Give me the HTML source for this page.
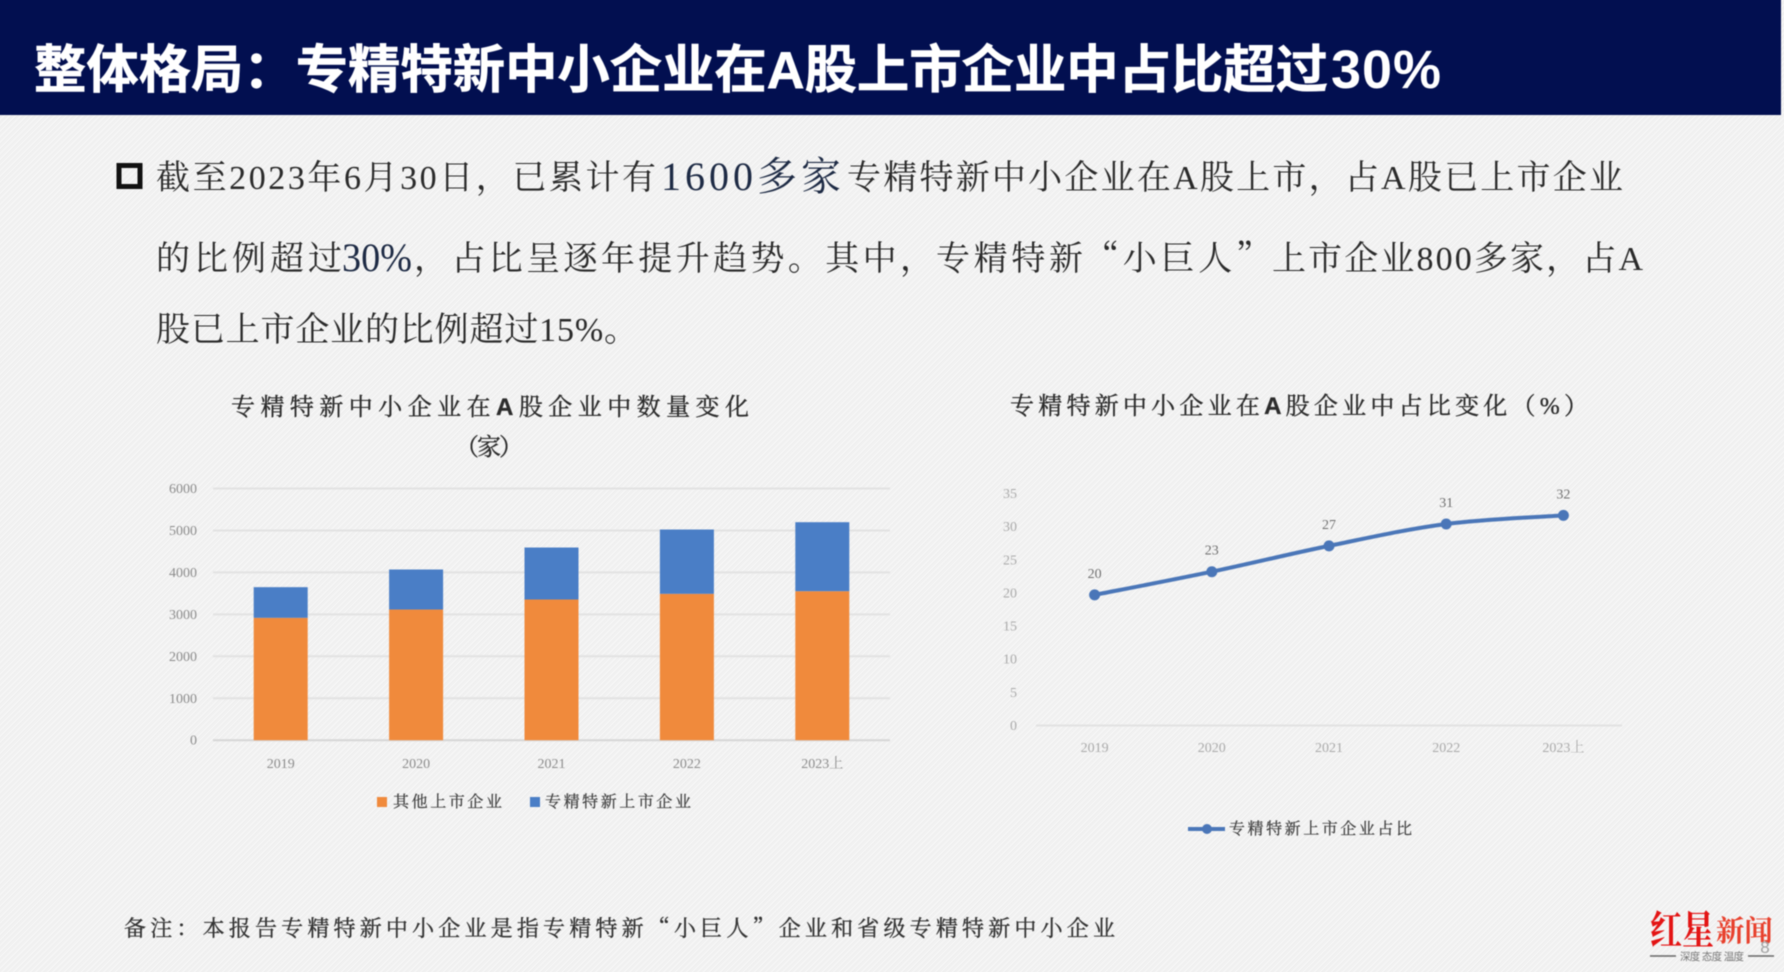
<!DOCTYPE html>
<html lang="zh">
<head>
<meta charset="utf-8">
<title>整体格局</title>
<style>
html,body{margin:0;padding:0;width:1784px;height:972px;overflow:hidden;background:#f2f2f2;}
#stage{position:absolute;left:0;top:0;width:1784px;height:972px;overflow:hidden;background-color:#f1f1f1;background-image:repeating-linear-gradient(135deg,#f5f5f5 0,#f5f5f5 1px,#efefef 2px,#f2f2f2 4px);}
svg{position:absolute;left:0;top:0;overflow:visible;filter:blur(0.45px);}
.serif{font-family:"Liberation Serif","Noto Serif CJK SC",serif;}
.sans{font-family:"Liberation Sans","Noto Sans CJK SC",sans-serif;}
.cjk{font-family:"Noto Serif CJK SC",serif;}
.body-t{font-size:34px;fill:#2a2a2a;}
.big-t{font-size:40px;fill:#1d2a44;}
.chart-title{font-size:24px;fill:#2c2c2c;stroke:#2c2c2c;stroke-width:0.35px;}
.tick{font-size:14px;fill:#8c8c8c;}
.legend{font-size:16px;fill:#404040;stroke:#404040;stroke-width:0.25px;}
</style>
</head>
<body>
<div id="stage">
<svg id="root" width="1784" height="972" viewBox="0 0 1784 972">
  <rect x="-10" y="-10" width="1791" height="125" fill="#020f50"/>
  <text class="sans" x="34" y="88" font-size="52" font-weight="700" fill="#ffffff" stroke="#ffffff" stroke-width="0.6" textLength="1294" lengthAdjust="spacingAndGlyphs">整体格局：专精特新中小企业在A股上市企业中占比超过</text>
  <text class="sans" x="1331" y="88" font-size="54" font-weight="700" fill="#ffffff" textLength="110" lengthAdjust="spacing">30%</text>

  <rect x="119" y="165.5" width="21" height="21" fill="none" stroke="#111111" stroke-width="5"/>

  <text class="serif body-t" x="156" y="189" textLength="500" lengthAdjust="spacing">截至2023年6月30日，已累计有</text>
  <text class="serif big-t" x="661" y="190" textLength="180" lengthAdjust="spacing">1600多家</text>
  <text class="serif body-t" x="847" y="189" textLength="776" lengthAdjust="spacing">专精特新中小企业在A股上市，占A股已上市企业</text>

  <text class="serif body-t" x="156" y="270" textLength="186" lengthAdjust="spacing">的比例超过</text>
  <text class="serif big-t" x="342" y="271" textLength="70" lengthAdjust="spacingAndGlyphs">30%</text>
  <text class="serif body-t" x="414" y="270" textLength="520" lengthAdjust="spacing">，占比呈逐年提升趋势。其中，</text>
  <text class="serif body-t" x="936" y="270" textLength="147" lengthAdjust="spacing">专精特新</text>
  <text class="cjk body-t" x="1085" y="270" textLength="185" lengthAdjust="spacing">“小巨人”</text>
  <text class="serif body-t" x="1272" y="270" textLength="371" lengthAdjust="spacing">上市企业800多家，占A</text>

  <text class="serif body-t" x="156" y="341" textLength="482" lengthAdjust="spacing">股已上市企业的比例超过15%。</text>

  <text class="serif chart-title" x="231" y="415" textLength="518" lengthAdjust="spacing">专精特新中小企业在<tspan class="sans" font-weight="700">A</tspan>股企业中数量变化</text>
  <text class="serif chart-title" x="489" y="455" text-anchor="middle" textLength="68" lengthAdjust="spacing">（家）</text>
  <text class="serif chart-title" x="1010" y="414" textLength="578" lengthAdjust="spacing">专精特新中小企业在<tspan class="sans" font-weight="700">A</tspan>股企业中占比变化（%）</text>

  <g id="bar-chart"></g>
  <g id="line-chart"></g>

  <rect x="377" y="797" width="10" height="10" fill="#f08a3c"/>
  <text class="serif legend" x="393" y="807" textLength="109" lengthAdjust="spacing">其他上市企业</text>
  <rect x="530" y="797" width="10" height="10" fill="#4a7ec6"/>
  <text class="serif legend" x="545" y="807" textLength="146" lengthAdjust="spacing">专精特新上市企业</text>

  <line x1="1188" y1="829" x2="1225" y2="829" stroke="#4a76b8" stroke-width="4"/>
  <circle cx="1207" cy="829" r="5" fill="#4a76b8"/>
  <text class="serif legend" x="1229" y="834" textLength="183" lengthAdjust="spacing">专精特新上市企业占比</text>

  <text class="serif" x="124" y="936" font-size="22" fill="#333333" stroke="#333333" stroke-width="0.35" textLength="991" lengthAdjust="spacing">备注：本报告专精特新中小企业是指专精特新<tspan class="cjk">“</tspan>小巨人<tspan class="cjk">”</tspan>企业和省级专精特新中小企业</text>

  <text class="serif" x="1650" y="944" font-size="40" font-weight="700" fill="#e31414" textLength="64" lengthAdjust="spacingAndGlyphs">红星</text>
  <text class="serif" x="1716" y="941" font-size="29" font-weight="700" fill="#e8402c" textLength="57" lengthAdjust="spacingAndGlyphs">新闻</text>
  <line x1="1650" y1="956" x2="1676" y2="956" stroke="#666666" stroke-width="1.5"/>
  <text class="sans" x="1680" y="960" font-size="10.5" fill="#777777" textLength="64" lengthAdjust="spacing">深度 态度 温度</text>
  <line x1="1748" y1="956" x2="1774" y2="956" stroke="#666666" stroke-width="1.5"/>
  <text class="sans" x="1765" y="953" font-size="17" fill="#a0a0a0" text-anchor="middle">8</text>
</svg>
</div>
<script>
var barCategories = ['2019','2020','2021','2022','2023上'];
var otherCompanies = [2917,3115,3354,3489,3552];
var srdiCompanies = [731,954,1239,1533,1645];
var barTicks = [0,1000,2000,3000,4000,5000,6000];

var lineCategories = ['2019','2020','2021','2022','2023上'];
var shareValues = [19.7,23.2,27.1,30.4,31.7];
var shareLabels = ['20','23','27','31','32'];
var lineTicks = [0,5,10,15,20,25,30,35];

var SVGNS = 'http://www.w3.org/2000/svg';
function make(parent, tag, attrs, text) {
  var el = document.createElementNS(SVGNS, tag);
  for (var k in attrs) { el.setAttribute(k, attrs[k]); }
  if (text !== undefined) { el.textContent = text; }
  parent.appendChild(el);
  return el;
}

/* bar chart axes */
var barG = document.getElementById('bar-chart');
var barLeft = 213, barRight = 890, barBase = 740.2, barTop = 488.5, barMax = 6000;
function barX(i) { return barLeft + (barRight - barLeft) * (i + 0.5) / barCategories.length; }
function barY(v) { return barBase - (barBase - barTop) * v / barMax; }
var barWidth = 54;

barTicks.forEach(function (t) {
  var grid = make(barG, 'line', {x1: barLeft, x2: barRight, y1: barY(t), y2: barY(t), stroke: t === 0 ? '#d6d6d6' : '#e2e2e2', 'stroke-width': 2});
  
  
  var label = make(barG, 'text', {x: 197, y: barY(t) + 4.5, 'text-anchor': 'end', 'class': 'serif tick'}, String(t));
  
  
});

barCategories.forEach(function (c, i) {
  var orangeTop = barY(otherCompanies[i]);
  var blueTop = barY(otherCompanies[i] + srdiCompanies[i]);
  var orange = make(barG, 'rect', {x: barX(i) - barWidth / 2, y: orangeTop, width: barWidth, height: barBase - orangeTop, fill: '#f08a3c'});
  
  
  var blue = make(barG, 'rect', {x: barX(i) - barWidth / 2, y: blueTop, width: barWidth, height: orangeTop - blueTop, fill: '#4a7ec6'});
  
  
  var cat = make(barG, 'text', {x: barX(i), y: 768, 'text-anchor': 'middle', 'class': 'serif tick'}, c);
  
  
});

/* line chart axes */
var lineG = document.getElementById('line-chart');
var lineLeft = 1036, lineRight = 1622, lineBase = 725.5, lineTop = 493.5, lineMax = 35;
function lineX(i) { return lineLeft + (lineRight - lineLeft) * (i + 0.5) / lineCategories.length; }
function lineY(v) { return lineBase - (lineBase - lineTop) * v / lineMax; }

lineTicks.forEach(function (t) {
  var label = make(lineG, 'text', {x: 1017, y: lineY(t) + 4.5, 'text-anchor': 'end', 'class': 'serif tick', style: 'fill:#aaaaaa'}, String(t));
  
  
});
var axisLine = make(lineG, 'line', {x1: lineLeft, x2: lineRight, y1: lineY(0), y2: lineY(0), stroke: '#e2e2e2', 'stroke-width': 2});



var pts = shareValues.map(function (v, i) { return [lineX(i), lineY(v)]; });
var d = 'M' + pts[0][0] + ' ' + pts[0][1];
for (var i = 0; i < pts.length - 1; i++) {
  var p0 = pts[Math.max(i - 1, 0)], p1 = pts[i], p2 = pts[i + 1], p3 = pts[Math.min(i + 2, pts.length - 1)];
  var k = 1 / 6;
  d += ' C' + (p1[0] + (p2[0] - p0[0]) * k) + ' ' + (p1[1] + (p2[1] - p0[1]) * k) + ' ' +
       (p2[0] - (p3[0] - p1[0]) * k) + ' ' + (p2[1] - (p3[1] - p1[1]) * k) + ' ' + p2[0] + ' ' + p2[1];
}
var sharePath = make(lineG, 'path', {d: d, fill: 'none', stroke: '#4a76b8', 'stroke-width': 4, 'stroke-linecap': 'round'});



lineCategories.forEach(function (c, i) {
  var point = make(lineG, 'circle', {cx: lineX(i), cy: lineY(shareValues[i]), r: 5.5, fill: '#4a76b8'});
  
  
  var val = make(lineG, 'text', {x: lineX(i), y: lineY(shareValues[i]) - 17, 'text-anchor': 'middle', 'class': 'serif tick', style: 'fill:#707070'}, shareLabels[i]);
  
  
  var cat = make(lineG, 'text', {x: lineX(i), y: 752, 'text-anchor': 'middle', 'class': 'serif tick', style: 'fill:#aaaaaa'}, c);
  
  
});
</script>
</body>
</html>
